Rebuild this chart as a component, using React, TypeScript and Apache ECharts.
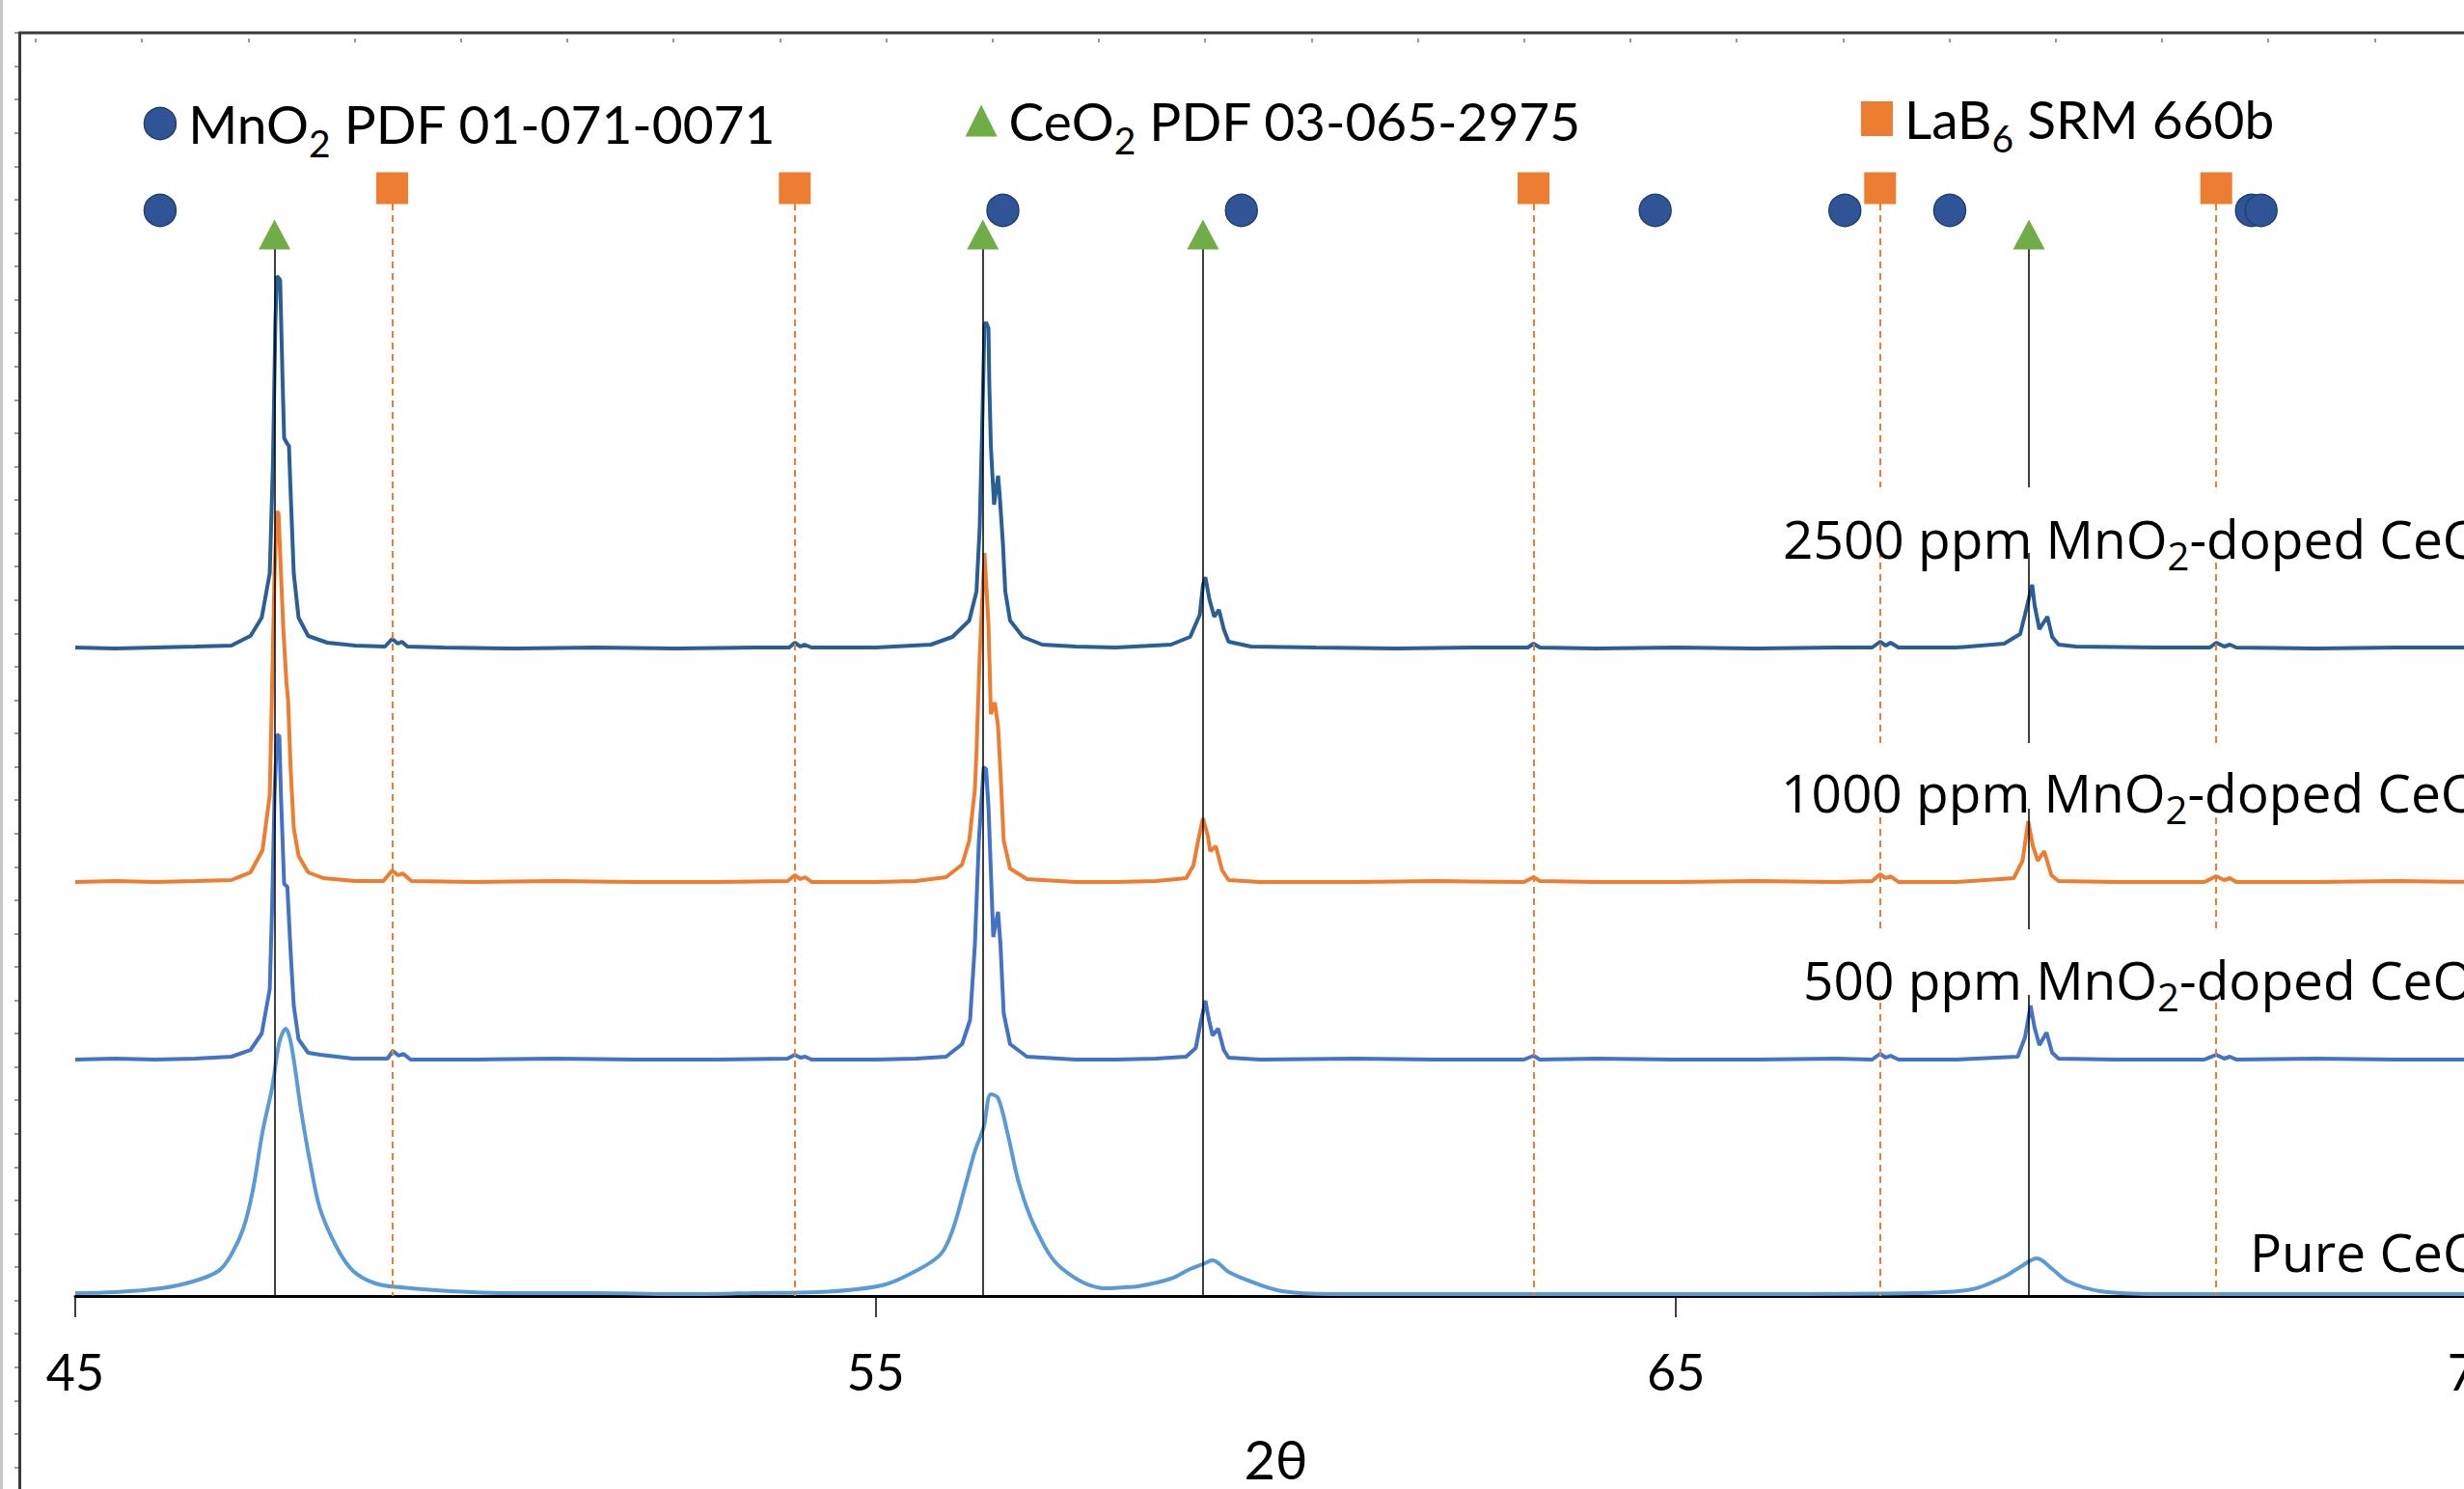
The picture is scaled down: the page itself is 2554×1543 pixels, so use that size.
import React, { useEffect, useRef } from "react";
import * as echarts from "echarts";

// ---- data (2θ, intensity offset in a.u.) ----
const s2500: [number, number][] = [
  [45.0, 672],[45.5, 671],[46.0, 672],[46.5, 673],[46.95, 674],[47.19, 684],[47.33, 703],[47.43, 749],[47.47, 863],[47.50, 1007],[47.52, 1057],[47.56, 1053],[47.59, 950],[47.61, 889],[47.65, 883],[47.67, 881],[47.69, 835],[47.73, 749],[47.79, 703],[47.91, 684],[48.15, 677],[48.5, 674],[48.87, 673],[48.96, 681],[49.03, 676],[49.08, 678],[49.15, 673],[49.6, 672],[50.5, 671],[51.5, 672],[52.5, 671],[53.5, 672],[53.92, 672],[53.99, 677],[54.06, 673],[54.11, 675],[54.2, 672],[55.0, 672],[55.69, 675],[55.96, 683],[56.17, 700],[56.26, 730],[56.30, 796],[56.33, 896],[56.36, 1006],[56.38, 1009],[56.41, 1003],[56.42, 946],[56.44, 880],[56.48, 820],[56.53, 850],[56.55, 830],[56.59, 780],[56.62, 730],[56.68, 700],[56.84, 683],[57.08, 675],[57.5, 673],[58.0, 672],[58.69, 675],[58.93, 683],[59.05, 706],[59.09, 737],[59.12, 745],[59.17, 722],[59.23, 704],[59.29, 711],[59.35, 691],[59.41, 678],[59.69, 673],[60.5, 672],[61.5, 671],[62.5, 672],[63.15, 672],[63.22, 676],[63.3, 672],[64.0, 671],[65.0, 672],[66.0, 671],[67.0, 672],[67.45, 672],[67.55, 678],[67.62, 674],[67.68, 677],[67.78, 672],[68.5, 672],[69.10, 676],[69.30, 686],[69.36, 706],[69.45, 737],[69.48, 716],[69.54, 691],[69.64, 704],[69.70, 683],[69.78, 675],[70.0, 673],[71.0, 672],[71.67, 672],[71.75, 677],[71.85, 673],[71.92, 675],[72.0, 672],[73.0, 671],[74.0, 672],[75.0, 672]
];
const s1000: [number, number][] = [
  [45.0, 429],[45.5, 430],[46.0, 429],[46.5, 430],[46.95, 431],[47.19, 439],[47.34, 462],[47.43, 519],[47.46, 634],[47.49, 749],[47.52, 813],[47.54, 811],[47.57, 749],[47.60, 691],[47.64, 634],[47.66, 617],[47.69, 548],[47.73, 485],[47.79, 456],[47.91, 439],[48.1, 433],[48.5, 430],[48.85, 430],[48.96, 441],[49.03, 436],[49.09, 438],[49.2, 430],[50.0, 429],[51.0, 430],[52.0, 429],[53.0, 429],[53.9, 430],[53.99, 436],[54.06, 432],[54.12, 434],[54.2, 429],[55.0, 429],[55.5, 430],[55.88, 434],[56.08, 447],[56.17, 472],[56.24, 525],[56.26, 563],[56.30, 663],[56.36, 770],[56.41, 696],[56.44, 603],[56.49, 615],[56.53, 590],[56.56, 543],[56.60, 472],[56.68, 443],[56.89, 432],[57.5, 429],[58.0, 429],[58.5, 430],[58.88, 433],[58.97, 446],[59.03, 472],[59.09, 495],[59.15, 477],[59.18, 461],[59.25, 466],[59.33, 441],[59.41, 431],[59.8, 429],[61.0, 429],[62.0, 430],[63.1, 429],[63.22, 434],[63.3, 430],[64.0, 429],[65.0, 429],[66.0, 430],[67.0, 429],[67.45, 430],[67.55, 437],[67.62, 433],[67.68, 435],[67.78, 429],[68.5, 429],[69.22, 433],[69.33, 451],[69.40, 492],[69.46, 466],[69.52, 451],[69.60, 461],[69.69, 436],[69.78, 430],[70.5, 429],[71.6, 429],[71.75, 435],[71.85, 431],[71.92, 433],[72.0, 429],[73.0, 429],[74.0, 430],[75.0, 429]
];
const s500: [number, number][] = [
  [45.0, 245],[45.5, 246],[46.0, 245],[46.5, 246],[46.95, 248],[47.19, 255],[47.33, 272],[47.43, 318],[47.46, 404],[47.49, 519],[47.52, 582],[47.55, 580],[47.57, 519],[47.61, 427],[47.65, 424],[47.69, 358],[47.73, 301],[47.79, 266],[47.91, 252],[48.06, 250],[48.47, 246],[48.9, 246],[48.97, 254],[49.04, 249],[49.10, 251],[49.19, 245],[50.0, 245],[51.0, 246],[52.0, 245],[53.0, 245],[53.9, 246],[53.99, 250],[54.06, 247],[54.12, 248],[54.2, 245],[55.0, 245],[55.5, 246],[55.88, 248],[56.08, 261],[56.18, 286],[56.24, 364],[56.29, 472],[56.35, 548],[56.38, 546],[56.41, 507],[56.47, 372],[56.53, 398],[56.56, 364],[56.60, 293],[56.68, 261],[56.89, 248],[57.5, 245],[58.0, 245],[58.5, 246],[58.88, 248],[59.00, 257],[59.06, 283],[59.12, 306],[59.16, 288],[59.21, 270],[59.28, 277],[59.35, 255],[59.41, 247],[59.8, 245],[61.0, 246],[62.0, 245],[63.1, 245],[63.22, 249],[63.3, 245],[64.0, 246],[65.0, 245],[66.0, 245],[67.0, 246],[67.45, 245],[67.55, 251],[67.62, 247],[67.68, 249],[67.78, 245],[68.5, 245],[69.27, 248],[69.36, 268],[69.43, 301],[69.48, 278],[69.54, 260],[69.63, 273],[69.70, 252],[69.78, 246],[70.5, 245],[71.6, 245],[71.75, 250],[71.85, 246],[71.92, 248],[72.0, 245],[73.0, 246],[74.0, 245],[75.0, 245]
];
const sPure: [number, number][] = [
  [45.0, 3],[45.5, 4],[46.07, 8],[46.47, 15],[46.79, 26],[46.95, 43],[47.10, 70],[47.22, 110],[47.34, 170],[47.46, 216],[47.55, 263],[47.63, 277],[47.70, 260],[47.82, 193],[47.94, 136],[48.06, 90],[48.27, 50],[48.47, 26],[48.75, 13],[49.07, 9],[49.68, 5],[50.47, 3],[51.5, 3],[52.5, 2],[53.5, 3],[54.28, 4],[55.08, 11],[55.48, 25],[55.81, 43],[55.96, 68],[56.12, 114],[56.24, 150],[56.35, 175],[56.44, 209],[56.53, 205],[56.65, 168],[56.80, 114],[57.01, 68],[57.32, 29],[57.88, 8],[58.1, 9],[58.28, 10],[58.69, 18],[58.93, 28],[59.09, 33],[59.21, 37],[59.41, 25],[59.69, 15],[60.08, 5],[60.69, 2],[62.0, 2],[64.0, 2],[66.0, 2],[68.0, 3],[68.70, 7],[69.10, 20],[69.30, 30],[69.51, 39],[69.70, 28],[69.90, 15],[70.30, 5],[71.0, 2],[73.0, 2],[75.0, 2]
];

// reference peak positions (2θ)
const ceo2Peaks = [47.49, 56.34, 59.09, 69.41];
const lab6Peaks = [48.96, 53.99, 63.22, 67.55, 71.75];
const mno2Peaks = [46.06, 56.59, 59.57, 64.74, 67.11, 68.42, 72.19, 72.31];
// marker row levels & reference line tops
const mno2Level = 1125;
const ceo2Level = 1100;
const lab6Level = 1148;
const ceo2LineTop = 1085;
const lab6LineTop = 1132;
// key markers (x, level)
const keyMnO2: [number, number] = [46.06, 1215];
const keyCeO2: [number, number] = [56.32, 1218];
const keyLaB6: [number, number] = [67.51, 1220];

const xTicks = { min: 45, max: 75, interval: 10 };

const C2500 = "#2A5F95";
const C1000 = "#ED7D31";
const C500 = "#4472C4";
const CPURE = "#5B9BD5";

const legendRich = {
  n: { fontFamily: "Lato", fontSize: 55, color: "#000", lineHeight: 70 },
  s: { fontFamily: "Lato", fontSize: 39, color: "#000", lineHeight: 70, padding: [40, 0, 0, 0] },
};
const lblRich = {
  n: { fontFamily: "'Open Sans'", fontSize: 55, color: "#000", lineHeight: 70 },
  s: { fontFamily: "'Open Sans'", fontSize: 40, color: "#000", lineHeight: 70, padding: [36, 0, 0, 0] },
};

function labelText(x: number, y: number, text: string) {
  return {
    type: "text",
    x,
    y,
    z: 110,
    style: { text, rich: lblRich, align: "left", verticalAlign: "middle", textAlign: "left", textVerticalAlign: "middle" },
  };
}

export default function App() {
  const ref = useRef<HTMLDivElement>(null);
  useEffect(() => {
    if (!ref.current) return;
    const chart = echarts.init(ref.current, null, { renderer: "svg" });
    const line = (name: string, data: [number, number][], color: string, smooth: number | boolean) => ({
      name,
      type: "line",
      data,
      showSymbol: false,
      symbol: "none",
      smooth,
      lineStyle: { color, width: 4 },
      itemStyle: { color },
      xAxisIndex: 0,
      yAxisIndex: 0,
      z: 3,
    });
    const option: any = {
      animation: false,
      backgroundColor: "#fff",
      grid: [
        { left: 78, top: 33, width: 2496, height: 1310 },
        { left: 20, top: 34, width: 10, height: 45 * 34.57 },
        { left: 36.9, top: 34, width: 23 * 110.2, height: 10 },
      ],
      xAxis: [
        {
          type: "value",
          gridIndex: 0,
          min: xTicks.min,
          max: xTicks.max,
          interval: xTicks.interval,
          splitLine: { show: false },
          axisLine: { lineStyle: { color: "#000", width: 3 } },
          axisTick: { show: true, length: 22, lineStyle: { color: "#000", width: 1.5 } },
          axisLabel: { fontFamily: "Lato", fontSize: 52, color: "#000", margin: 52 },
          name: "2θ",
          nameLocation: "middle",
          nameGap: 140,
          nameTextStyle: { fontFamily: "Lato", fontSize: 56, color: "#000" },
        },
        { type: "value", gridIndex: 1, min: 0, max: 1, show: false },
        {
          type: "value",
          gridIndex: 2,
          position: "top",
          min: 0,
          max: 23,
          interval: 1,
          axisLine: { show: false },
          axisTick: { show: true, length: 4, lineStyle: { color: "#777", width: 1.5 } },
          axisLabel: { show: false },
          splitLine: { show: false },
        },
      ],
      yAxis: [
        { type: "value", gridIndex: 0, min: 0, max: 1310, show: false },
        {
          type: "value",
          gridIndex: 1,
          min: 0,
          max: 45,
          interval: 1,
          inverse: true,
          position: "left",
          axisLine: { show: false },
          axisTick: { show: true, length: 5, lineStyle: { color: "#777", width: 1.5 } },
          axisLabel: { show: false },
          splitLine: { show: false },
        },
        { type: "value", gridIndex: 2, min: 0, max: 1, show: false },
      ],
      series: [
        line("2500 ppm", s2500, C2500, false),
        line("1000 ppm", s1000, C1000, false),
        line("500 ppm", s500, C500, false),
        line("Pure CeO2", sPure, CPURE, 0.35),
        {
          name: "LaB6 lines",
          type: "scatter",
          data: lab6Peaks.map((p) => [p, lab6Level]),
          symbol: "rect",
          symbolSize: 33,
          itemStyle: { color: "#ED7D31", opacity: 1 },
          z: 5,
          markLine: {
            silent: true,
            symbol: ["none", "none"],
            label: { show: false },
            lineStyle: { color: "#ED7D31", width: 2, type: [7, 5] },
            data: lab6Peaks.map((p) => [{ coord: [p, lab6LineTop] }, { coord: [p, 0] }]),
          },
        },
        {
          name: "CeO2",
          type: "scatter",
          data: ceo2Peaks.map((p) => [p, ceo2Level]),
          symbol: "triangle",
          symbolSize: [33, 31],
          itemStyle: { color: "#70AD47", opacity: 1 },
          z: 5,
          markLine: {
            silent: true,
            symbol: ["none", "none"],
            label: { show: false },
            lineStyle: { color: "#000", width: 1.5, type: "solid" },
            data: ceo2Peaks.map((p) => [{ coord: [p, ceo2LineTop] }, { coord: [p, 0] }]),
          },
        },
        {
          name: "MnO2",
          type: "scatter",
          data: mno2Peaks.map((p) => [p, mno2Level]),
          symbol: "circle",
          symbolSize: 33,
          itemStyle: { color: "#2F5597", borderColor: "#22406F", borderWidth: 1.5, opacity: 1 },
          z: 6,
        },
        {
          name: "key MnO2",
          type: "scatter",
          data: [keyMnO2],
          symbol: "circle",
          symbolSize: 33,
          itemStyle: { color: "#2F5597", borderColor: "#22406F", borderWidth: 1.5, opacity: 1 },
          label: { show: true, position: "right", distance: 12, formatter: "{n|MnO}{s|2}{n| PDF 01-071-0071}", rich: legendRich },
          z: 6,
        },
        {
          name: "key CeO2",
          type: "scatter",
          data: [keyCeO2],
          symbol: "triangle",
          symbolSize: [33, 33],
          itemStyle: { color: "#70AD47", opacity: 1 },
          label: { show: true, position: "right", distance: 12, formatter: "{n|CeO}{s|2}{n| PDF 03-065-2975}", rich: legendRich },
          z: 6,
        },
        {
          name: "key LaB6",
          type: "scatter",
          data: [keyLaB6],
          symbol: "rect",
          symbolSize: [33, 36],
          itemStyle: { color: "#ED7D31", opacity: 1 },
          label: { show: true, position: "right", distance: 12, formatter: "{n|LaB}{s|6}{n| SRM 660b}", rich: legendRich },
          z: 6,
        },
      ],
      graphic: [
        { type: "rect", z: 120, shape: { x: 0, y: 0, width: 3, height: 1600 }, style: { fill: "#c8c8c8" } },
        { type: "line", z: 120, shape: { x1: 19, y1: 34, x2: 2600, y2: 34 }, style: { stroke: "#3a3a3a", lineWidth: 3 } },
        { type: "line", z: 120, shape: { x1: 20.5, y1: 33, x2: 20.5, y2: 1600 }, style: { stroke: "#3a3a3a", lineWidth: 3 } },
        { type: "rect", z: 100, shape: { x: 1838, y: 505, width: 800, height: 68 }, style: { fill: "#fff" } },
        { type: "rect", z: 100, shape: { x: 1836, y: 770, width: 800, height: 68 }, style: { fill: "#fff" } },
        { type: "rect", z: 100, shape: { x: 1858, y: 963, width: 800, height: 68 }, style: { fill: "#fff" } },
        labelText(1848, 557, "{n|2500 ppm MnO}{s|2}{n|-doped CeO}{s|2}"),
        labelText(1846, 820, "{n|1000 ppm MnO}{s|2}{n|-doped CeO}{s|2}"),
        labelText(1869, 1014, "{n|500 ppm MnO}{s|2}{n|-doped CeO}{s|2}"),
        labelText(2332, 1296, "{n|Pure CeO}{s|2}"),
      ],
    };
    chart.setOption(option);
    return () => chart.dispose();
  }, []);
  return (
    <div style={{ position: "fixed", left: 0, top: 0, width: 2554, height: 1543, overflow: "hidden", background: "#fff" }}>
      <div ref={ref} style={{ width: 2600, height: 1600 }} />
    </div>
  );
}
